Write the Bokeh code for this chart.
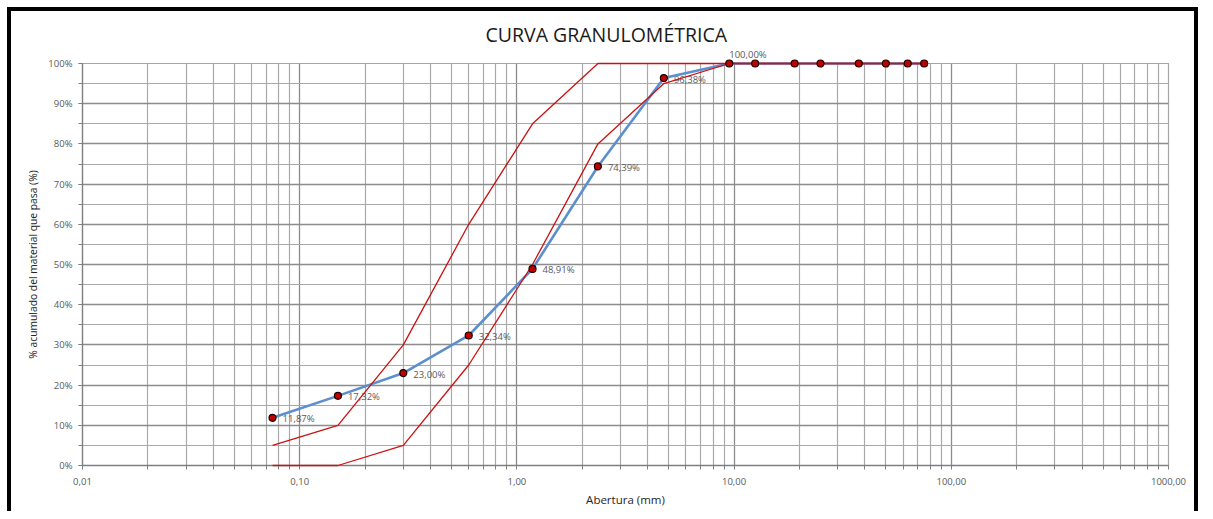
from bokeh.plotting import figure
from bokeh.models import (FixedTicker, CustomJSTickFormatter, ColumnDataSource,
                          Range1d, LabelSet, LogAxis, Title)
from bokeh.core.properties import value
from bokeh.embed import file_html
from bokeh.resources import INLINE

# ---- data ----
aberturas = [0.075, 0.15, 0.3, 0.6, 1.18, 2.36, 4.75, 9.5, 12.5, 19.0, 25.0, 37.5, 50.0, 63.0, 75.0]
pasa = [11.87, 17.32, 23.00, 32.34, 48.91, 74.39, 96.38, 100.0, 100.0, 100.0, 100.0, 100.0, 100.0, 100.0, 100.0]
lim_sup = [5, 10, 30, 60, 85, 100, 100, 100, 100, 100, 100, 100, 100, 100, 100]
lim_inf = [0, 0, 5, 25, 50, 80, 95, 100, 100, 100, 100, 100, 100, 100, 100]
n_labels = 8  # points carrying a data label
x_ticks = [0.01, 0.1, 1, 10, 100, 1000]
y_ticks = list(range(0, 101, 10))
titulo = "CURVA GRANULOMÉTRICA"

FONT = "Open Sans"
GRAY_TXT = "#595959"

p = figure(width=1191, height=504, x_axis_type="log",
           x_range=Range1d(0.01, 1000), y_range=Range1d(0, 100),
           output_backend="svg", toolbar_location=None,
           min_border_left=71, min_border_right=34, min_border_top=52, min_border_bottom=50)
p.styles = {"border-top": "4px solid #000", "border-left": "4px solid #000",
            "border-right": "4px solid #000", "margin-left": "7px", "margin-top": "7px"}

# grids
minor_x = [m * 10.0 ** e for e in range(-2, 3) for m in range(2, 10)]
p.xaxis.ticker = FixedTicker(ticks=x_ticks, minor_ticks=minor_x)
p.yaxis.ticker = FixedTicker(ticks=y_ticks, minor_ticks=list(range(0, 101, 5)))
for g in (p.xgrid, p.ygrid):
    g.grid_line_color = "#8c8c8c"
    g.grid_line_width = 1.3
    g.minor_grid_line_color = "#a9a9a9"
    g.minor_grid_line_width = 1.2
p.outline_line_color = "#a6a6a6"
p.outline_line_width = 1.2

p.xaxis.formatter = CustomJSTickFormatter(code="return tick.toFixed(2).replace('.', ',');")
p.yaxis.formatter = CustomJSTickFormatter(code="return Math.round(tick) + '%';")
for ax in (p.xaxis, p.yaxis):
    ax.axis_line_color = "#7f7f7f"
    ax.axis_line_width = 1.3
    ax.major_tick_line_color = "#7f7f7f"
    ax.minor_tick_line_color = "#7f7f7f"
    ax.major_tick_out = 4
    ax.major_tick_in = 0
    ax.minor_tick_out = 4
    ax.minor_tick_in = 0
    ax.major_label_text_font = FONT
    ax.major_label_text_font_size = "9.5px"
    ax.major_label_text_color = GRAY_TXT
    ax.axis_label_text_font = FONT
    ax.axis_label_text_font_style = "normal"
    ax.axis_label_text_color = "#262626"
p.xaxis.axis_label_text_font_size = "11.5px"
p.yaxis.axis_label_text_font_size = "10.3px"
p.xaxis.major_label_standoff = 8
p.yaxis.major_label_standoff = 6
p.xaxis.axis_label = "Abertura (mm)"
p.yaxis.axis_label = "% acumulado del material que pasa (%)"
p.xaxis.axis_label_standoff = 4
p.yaxis.axis_label_standoff = 5

# data label of the first 100 % point, shown above the frame (kept outside plot clipping)
lab = [f"{v:.2f}".replace(".", ",") + "%" for v in pasa[:n_labels]]
top_axis = LogAxis(ticker=FixedTicker(ticks=[aberturas[n_labels - 1]]),
                   formatter=CustomJSTickFormatter(code="return '%s';" % lab[-1]),
                   axis_line_color=None, major_tick_line_color=None, minor_tick_line_color=None,
                   major_tick_out=0, major_tick_in=0, major_label_standoff=9,
                   major_label_orientation=0.0001,
                   major_label_text_font=FONT, major_label_text_font_size="9.5px",
                   major_label_text_color=GRAY_TXT)
p.add_layout(top_axis, "above")

p.add_layout(Title(text=titulo, align="left", offset=403, standoff=-18,
                   text_font=FONT, text_font_size="19.5px", text_font_style="normal",
                   text_color="#1a1a1a"), "above")

src = ColumnDataSource(dict(x=aberturas, y=pasa, sup=lim_sup, inf=lim_inf))
r1 = p.line("x", "y", source=src, line_color="#5b8fce", line_width=2.6)
r2 = p.line("x", "sup", source=src, line_color="#cc1111", line_width=1.3)
r3 = p.line("x", "inf", source=src, line_color="#cc1111", line_width=1.3)
r4 = p.scatter("x", "y", source=src, size=7, fill_color="#c00000", line_color="#1a0000", line_width=1.2)
for r in (r1, r2, r3, r4):
    r.level = "overlay"

lab_src = ColumnDataSource(dict(x=aberturas[:n_labels - 1], y=pasa[:n_labels - 1], t=lab[:n_labels - 1]))
p.add_layout(LabelSet(x="x", y="y", text="t", source=lab_src, x_offset=10, y_offset=-1,
                      text_baseline="middle", text_font=value(FONT), text_font_size="9.5px",
                      text_color=GRAY_TXT))

open("out.html", "w").write(file_html(p, INLINE))
